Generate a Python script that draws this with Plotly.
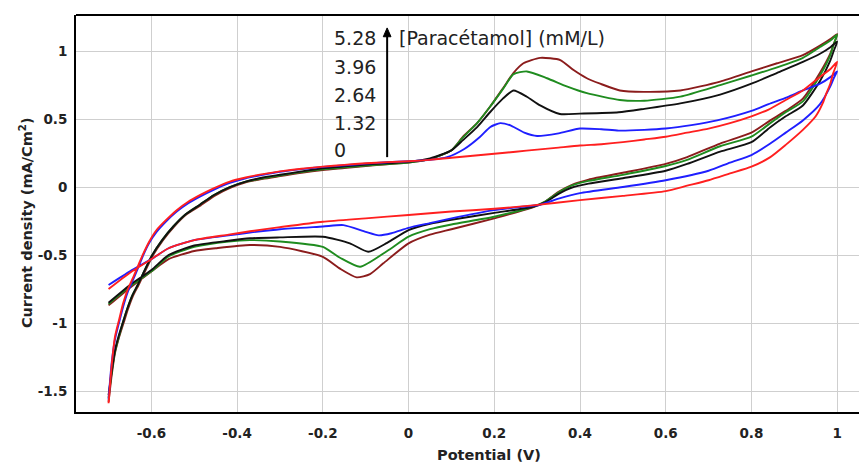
import plotly.graph_objects as go

# ---------------- data ----------------
concentrations = ["0", "1.32", "2.64", "3.96", "5.28"]   # mM/L
colors = ["#ff1f1f", "#1f1fff", "#111111", "#1f8c1f", "#8b1c1c"]

# 0 mM (red)
E_red = [-0.700, -0.693, -0.685, -0.675, -0.666, -0.655, -0.642, -0.630, -0.619, -0.605,
         -0.588, -0.565, -0.541, -0.515, -0.487, -0.455, -0.417, -0.38, -0.34, -0.30,
         -0.25, -0.20, -0.15, -0.10, -0.05, 0.00, 0.05, 0.10, 0.15, 0.20, 0.25, 0.30,
         0.35, 0.40, 0.45, 0.50, 0.55, 0.60, 0.65, 0.70, 0.75, 0.80, 0.84, 0.88, 0.92,
         0.96, 0.985, 1.000,
         0.990, 0.984, 0.975, 0.967, 0.95, 0.92, 0.88, 0.844, 0.80, 0.75, 0.70, 0.65,
         0.60, 0.50, 0.40, 0.29, 0.20, 0.10, 0.00, -0.10, -0.20, -0.30, -0.37, -0.42,
         -0.50, -0.56, -0.60, -0.65, -0.70]
J_red = [-1.59, -1.32, -1.10, -0.97, -0.855, -0.75, -0.66, -0.57, -0.49, -0.40,
         -0.316, -0.24, -0.17, -0.11, -0.06, -0.01, 0.04, 0.07, 0.095, 0.115,
         0.135, 0.15, 0.163, 0.175, 0.183, 0.19, 0.20, 0.215, 0.23, 0.245, 0.26, 0.275,
         0.29, 0.305, 0.315, 0.33, 0.35, 0.37, 0.40, 0.43, 0.47, 0.52, 0.57, 0.64, 0.71,
         0.81, 0.87, 0.92,
         0.83, 0.76, 0.69, 0.62, 0.52, 0.42, 0.31, 0.22, 0.15, 0.10, 0.05, 0.01,
         -0.03, -0.065, -0.096, -0.135, -0.16, -0.18, -0.205, -0.23, -0.255, -0.295, -0.325, -0.35,
         -0.39, -0.45, -0.53, -0.63, -0.75]

# 1.32 mM (blue)
E_blue = [-0.700, -0.693, -0.685, -0.675, -0.666, -0.655, -0.642, -0.630, -0.619, -0.605,
          -0.588, -0.565, -0.541, -0.515, -0.487, -0.455, -0.417, -0.38, -0.34, -0.30,
          -0.25, -0.20, -0.15, -0.10, -0.05, 0.00, 0.05, 0.09, 0.13, 0.167, 0.19, 0.214,
          0.24, 0.27, 0.30, 0.35, 0.40, 0.45, 0.49, 0.55, 0.60, 0.66, 0.72, 0.80, 0.84,
          0.883, 0.92, 0.96, 0.985, 1.000,
          0.992, 0.984, 0.96, 0.92, 0.88, 0.844, 0.80, 0.75, 0.70, 0.60, 0.50, 0.40,
          0.35, 0.307, 0.25, 0.20, 0.10, 0.05, 0.00, -0.04, -0.07, -0.10, -0.152, -0.20,
          -0.30, -0.37, -0.42, -0.50, -0.56, -0.60, -0.65, -0.70]
J_blue = [-1.56, -1.30, -1.12, -0.99, -0.88, -0.77, -0.675, -0.585, -0.50, -0.41,
          -0.33, -0.25, -0.18, -0.12, -0.07, -0.02, 0.03, 0.065, 0.09, 0.112,
          0.132, 0.148, 0.16, 0.172, 0.182, 0.19, 0.20, 0.22, 0.28, 0.37, 0.44, 0.47,
          0.45, 0.40, 0.375, 0.395, 0.43, 0.425, 0.415, 0.42, 0.43, 0.455, 0.49, 0.56, 0.61,
          0.66, 0.71, 0.76, 0.81, 0.85,
          0.80, 0.74, 0.61, 0.49, 0.40, 0.32, 0.235, 0.18, 0.12, 0.05, 0.0, -0.045,
          -0.085, -0.13, -0.15, -0.17, -0.23, -0.265, -0.30, -0.34, -0.355, -0.33, -0.28, -0.29,
          -0.31, -0.335, -0.355, -0.39, -0.45, -0.53, -0.62, -0.72]

# 2.64 mM (black)
E_black = [-0.700, -0.693, -0.685, -0.676, -0.667, -0.657, -0.645, -0.632, -0.620, -0.600,
           -0.575, -0.549, -0.520, -0.487, -0.455, -0.417, -0.38, -0.34, -0.30, -0.25,
           -0.20, -0.15, -0.10, -0.05, 0.00, 0.05, 0.10, 0.127, 0.16, 0.19, 0.22, 0.245,
           0.276, 0.307, 0.353, 0.40, 0.49, 0.55, 0.634, 0.727, 0.80, 0.86, 0.92, 0.96,
           0.985, 1.000,
           0.992, 0.984, 0.96, 0.92, 0.88, 0.844, 0.80, 0.727, 0.65, 0.60, 0.50, 0.42,
           0.38, 0.35, 0.32, 0.29, 0.20, 0.10, 0.05, 0.00, -0.05, -0.094, -0.137, -0.20,
           -0.30, -0.37, -0.42, -0.50, -0.56, -0.60, -0.65, -0.70]
J_black = [-1.53, -1.36, -1.20, -1.09, -1.00, -0.90, -0.80, -0.72, -0.64, -0.51,
           -0.39, -0.29, -0.20, -0.13, -0.06, 0.00, 0.04, 0.07, 0.09, 0.115,
           0.138, 0.152, 0.165, 0.175, 0.185, 0.21, 0.27, 0.345, 0.44, 0.55, 0.65, 0.71,
           0.664, 0.60, 0.537, 0.54, 0.55, 0.575, 0.615, 0.68, 0.76, 0.84, 0.92, 0.98,
           1.03, 1.07,
           1.00, 0.93, 0.78, 0.60, 0.52, 0.44, 0.33, 0.26, 0.17, 0.12, 0.065, 0.025,
           -0.005, -0.05, -0.11, -0.145, -0.19, -0.24, -0.27, -0.316, -0.41, -0.476, -0.414, -0.365,
           -0.37, -0.377, -0.395, -0.43, -0.50, -0.61, -0.72, -0.85]

# 3.96 mM (green)
E_green = [-0.700, -0.693, -0.685, -0.676, -0.667, -0.657, -0.645, -0.632, -0.620, -0.600,
           -0.575, -0.549, -0.520, -0.487, -0.455, -0.417, -0.38, -0.34, -0.30, -0.25,
           -0.20, -0.15, -0.10, -0.05, 0.00, 0.05, 0.10, 0.127, 0.16, 0.19, 0.22, 0.245,
           0.276, 0.323, 0.369, 0.416, 0.493, 0.55, 0.634, 0.727, 0.80, 0.86, 0.92, 0.96,
           0.985, 1.000,
           0.992, 0.984, 0.96, 0.92, 0.88, 0.844, 0.80, 0.727, 0.65, 0.60, 0.50, 0.42,
           0.38, 0.35, 0.32, 0.29, 0.20, 0.10, 0.05, 0.00, -0.05, -0.113, -0.16, -0.20,
           -0.30, -0.37, -0.42, -0.50, -0.56, -0.60, -0.65, -0.70]
J_green = [-1.55, -1.37, -1.21, -1.10, -1.00, -0.90, -0.80, -0.72, -0.64, -0.51,
           -0.39, -0.29, -0.20, -0.13, -0.06, 0.00, 0.04, 0.065, 0.085, 0.11,
           0.13, 0.145, 0.158, 0.17, 0.18, 0.205, 0.27, 0.365, 0.47, 0.59, 0.72, 0.83,
           0.85, 0.80, 0.74, 0.69, 0.64, 0.635, 0.665, 0.75, 0.82, 0.88, 0.95, 1.03,
           1.08, 1.12,
           1.05, 0.97, 0.82, 0.63, 0.55, 0.47, 0.37, 0.30, 0.20, 0.155, 0.09, 0.045,
           0.01, -0.04, -0.105, -0.145, -0.218, -0.275, -0.31, -0.365, -0.47, -0.586, -0.52, -0.44,
           -0.40, -0.39, -0.40, -0.44, -0.51, -0.62, -0.73, -0.86]

# 5.28 mM (brown)
E_brown = [-0.700, -0.693, -0.685, -0.676, -0.665, -0.655, -0.643, -0.630, -0.618, -0.598,
           -0.573, -0.547, -0.518, -0.485, -0.453, -0.415, -0.38, -0.34, -0.30, -0.25,
           -0.20, -0.15, -0.10, -0.05, 0.00, 0.05, 0.10, 0.127, 0.16, 0.19, 0.22, 0.245,
           0.268, 0.307, 0.354, 0.385, 0.416, 0.447, 0.493, 0.548, 0.634, 0.727, 0.80, 0.86,
           0.92, 0.96, 0.985, 1.000,
           0.992, 0.984, 0.96, 0.92, 0.88, 0.844, 0.80, 0.727, 0.65, 0.60, 0.50, 0.42,
           0.38, 0.35, 0.32, 0.29, 0.20, 0.10, 0.05, 0.00, -0.059, -0.09, -0.121, -0.16,
           -0.20, -0.30, -0.37, -0.45, -0.50, -0.56, -0.60, -0.65, -0.70]
J_brown = [-1.58, -1.39, -1.22, -1.11, -1.00, -0.90, -0.80, -0.72, -0.64, -0.51,
           -0.39, -0.29, -0.20, -0.135, -0.065, -0.005, 0.035, 0.06, 0.08, 0.105,
           0.125, 0.14, 0.155, 0.168, 0.18, 0.205, 0.27, 0.37, 0.47, 0.59, 0.725, 0.84,
           0.91, 0.95, 0.934, 0.86, 0.80, 0.76, 0.71, 0.70, 0.71, 0.775, 0.85, 0.91,
           0.97, 1.04, 1.09, 1.125,
           1.05, 0.98, 0.84, 0.65, 0.56, 0.49, 0.40, 0.32, 0.22, 0.17, 0.105, 0.055,
           0.015, -0.035, -0.105, -0.15, -0.23, -0.31, -0.35, -0.414, -0.561, -0.64, -0.664, -0.60,
           -0.513, -0.44, -0.426, -0.45, -0.47, -0.53, -0.62, -0.74, -0.87]

x_ticks = [-0.6, -0.4, -0.2, 0, 0.2, 0.4, 0.6, 0.8, 1]
x_ticktext = ["-0.6", "-0.4", "-0.2", "0", "0.2", "0.4", "0.6", "0.8", "1"]
y_ticks = [-1.5, -1, -0.5, 0, 0.5, 1]
y_ticktext = ["-1.5", "-1", "-0.5", "0", "0.5", "1"]

# concentration labels beside the arrow (data coordinates)
label_y = [0.272, 0.47, 0.676, 0.882, 1.096]
arrow_x = -0.05
arrow_y0, arrow_y1 = 0.22, 1.17

# ---------------- figure ----------------
fig = go.Figure()
series = [(E_brown, J_brown, colors[4]), (E_green, J_green, colors[3]),
          (E_black, J_black, colors[2]), (E_blue, J_blue, colors[1]),
          (E_red, J_red, colors[0])]
for ex, jy, col in series:
    fig.add_trace(go.Scatter(x=ex, y=jy, mode="lines",
                             line=dict(color=col, width=1.9, shape="spline", smoothing=0.6),
                             showlegend=False, hoverinfo="skip"))

ann_font = dict(family="DejaVu Sans", size=19, color="#222222")
annotations = []
for txt, yy in zip(concentrations, label_y):
    annotations.append(dict(x=-0.1785, y=yy, xref="x", yref="y", text=txt,
                            showarrow=False, xanchor="left", yanchor="middle", font=ann_font))
annotations.append(dict(x=-0.027, y=1.096, xref="x", yref="y", text="[Paracétamol] (mM/L)",
                        showarrow=False, xanchor="left", yanchor="middle", font=ann_font))
# axis titles (positioned as in the reference)
title_font = dict(family="DejaVu Sans", size=14.5, color="#222222", weight="bold")
annotations.append(dict(x=0.5275, y=-0.108, xref="paper", yref="paper", text="Potential (V)",
                        showarrow=False, xanchor="center", yanchor="middle", font=title_font))
annotations.append(dict(x=-0.064, y=0.478, xref="paper", yref="paper",
                        text="Current density (mA/Cm<sup>2</sup>)", textangle=-90,
                        showarrow=False, xanchor="center", yanchor="middle", font=title_font))

head_h = 0.065
head_w = 0.009
shapes = [
    dict(type="line", xref="paper", yref="paper", x0=0, x1=1, y0=1, y1=1,
         line=dict(color="black", width=2)),
    dict(type="line", xref="x", yref="y", x0=arrow_x, x1=arrow_x,
         y0=arrow_y0, y1=arrow_y1 - head_h * 0.6, line=dict(color="black", width=2)),
    dict(type="path", xref="x", yref="y",
         path=f"M {arrow_x - head_w},{arrow_y1 - head_h} L {arrow_x},{arrow_y1} "
              f"L {arrow_x + head_w},{arrow_y1 - head_h} Z",
         fillcolor="black", line=dict(color="black", width=1)),
]

tick_font = dict(family="DejaVu Sans", size=13.5, color="#222222", weight="bold")
fig.update_layout(
    width=859, height=464,
    margin=dict(l=76, r=0, t=15, b=52),
    paper_bgcolor="white", plot_bgcolor="white",
    showlegend=False,
    annotations=annotations,
    shapes=shapes,
    xaxis=dict(range=[-0.776, 1.051], tickvals=x_ticks, ticktext=x_ticktext,
               showgrid=True, gridcolor="#cfcfcf", gridwidth=1, zeroline=False,
               showline=True, linecolor="black", linewidth=2, ticks="",
               tickfont=tick_font, ticklabelstandoff=8, automargin=False),
    yaxis=dict(range=[-1.654, 1.265], tickvals=y_ticks, ticktext=y_ticktext,
               showgrid=True, gridcolor="#cfcfcf", gridwidth=1, zeroline=False,
               showline=True, linecolor="black", linewidth=2, ticks="",
               tickfont=tick_font, ticklabelstandoff=4, automargin=False),
)

fig.write_html("out.html")
